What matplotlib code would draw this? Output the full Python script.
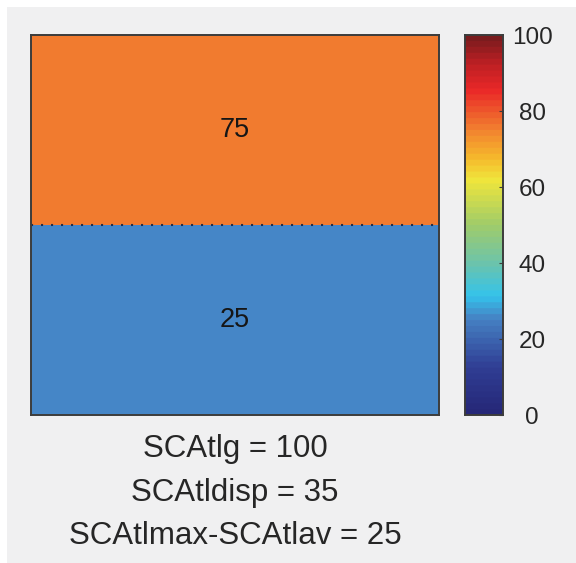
import numpy as np
import matplotlib
matplotlib.use("Agg")
import matplotlib.pyplot as plt
from matplotlib.colors import LinearSegmentedColormap
from matplotlib.patches import Rectangle

plt.rcParams['font.family'] = ['Liberation Sans', 'DejaVu Sans']

# cell values, bottom row first
cell_values = [25, 75]
cbar_ticks = [0, 20, 40, 60, 80, 100]
summary_lines = ["SCAtlg = 100", "SCAtldisp = 35", "SCAtlmax-SCAtlav = 25"]

# jet-like map, discrete 64 steps
cmap_stops = [0.0, 0.12, 0.25, 0.31, 0.40, 0.50, 0.62, 0.68, 0.75, 0.86, 0.93, 1.0]
cmap_rgb = [(38, 40, 120), (48, 62, 148), (70, 130, 196), (52, 195, 236),
            (110, 196, 170), (160, 204, 106), (240, 230, 60), (246, 184, 44),
            (242, 133, 48), (234, 40, 40), (190, 32, 36), (122, 28, 30)]
cmap = LinearSegmentedColormap.from_list(
    "jetish", [(s, tuple(c / 255 for c in rgb)) for s, rgb in zip(cmap_stops, cmap_rgb)], N=64)

bg = "#f0f0f1"
txt = "#262626"
W, H = 576, 563
fig = plt.figure(figsize=(W / 100, H / 100), dpi=100, facecolor="white")
fig.patches.append(Rectangle((7 / W, 0), 1, 1 - 7 / H, transform=fig.transFigure,
                             facecolor=bg, edgecolor="none", zorder=-10))

ax = fig.add_axes([31 / W, 1 - 415 / H, 408 / W, 380 / H])
vals = np.array(cell_values).reshape(-1, 1)
ax.pcolormesh([0, 1], np.arange(len(cell_values) + 1), vals, cmap=cmap, vmin=0, vmax=100)
ax.set_xlim(0, 1)
ax.set_ylim(0, len(cell_values))
for i, v in enumerate(cell_values):
    ax.text(0.5, i + 0.5, str(v), ha="center", va="center", fontsize=19.5, color="#161616")
ax.axhline(1, color="#26304a", lw=1.5, ls=(0, (1, 3.8)))
ax.set_xticks([])
ax.set_yticks([])
for sp in ax.spines.values():
    sp.set_color("#3c3c3c")
    sp.set_linewidth(1.4)

cax = fig.add_axes([465 / W, 1 - 415 / H, 38 / W, 380 / H])
grad = np.linspace(0, 100, 256).reshape(-1, 1)
cax.imshow(grad, aspect="auto", origin="lower", cmap=cmap, vmin=0, vmax=100,
           extent=[0, 1, 0, 100])
cax.set_xticks([])
cax.yaxis.tick_right()
cax.set_yticks(cbar_ticks)
cax.set_yticklabels([str(t) for t in cbar_ticks])
cax.tick_params(axis="y", direction="in", length=3, width=0.8, color="#3c3c3c",
                labelsize=17.5, labelcolor=txt, pad=21)
for lab in cax.get_yticklabels():
    lab.set_horizontalalignment("center")
for sp in cax.spines.values():
    sp.set_color("#3c3c3c")
    sp.set_linewidth(1.4)

cx = (31 + 439) / 2 / W
for k, line in enumerate(summary_lines):
    fig.text(cx, 1 - (449 + k * 43.5) / H, line, ha="center", va="center",
             fontsize=22.5, color=txt)

fig.savefig("out.png", dpi=100, facecolor="white")
